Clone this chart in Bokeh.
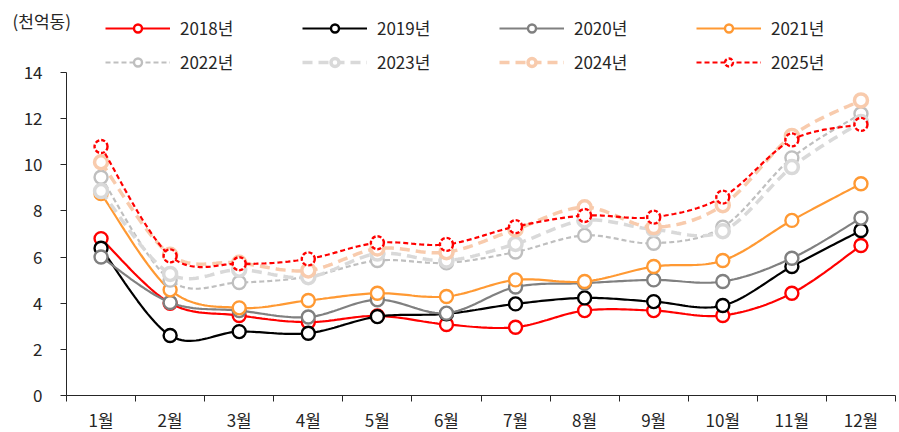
import numpy as np
from bokeh.plotting import figure
from bokeh.models import Range1d, FixedTicker, Legend, LegendItem, Label
from bokeh.embed import file_html
from bokeh.resources import INLINE

# ---- data (천억동) ----
months = ["1월", "2월", "3월", "4월", "5월", "6월", "7월", "8월", "9월", "10월", "11월", "12월"]
years = ["2018년", "2019년", "2020년", "2021년", "2022년", "2023년", "2024년", "2025년"]
y2018 = [6.80, 4.00, 3.47, 3.18, 3.45, 3.08, 2.96, 3.68, 3.68, 3.47, 4.43, 6.50]
y2019 = [6.38, 2.60, 2.77, 2.70, 3.42, 3.54, 3.97, 4.23, 4.07, 3.90, 5.59, 7.15]
y2020 = [6.00, 4.03, 3.68, 3.40, 4.15, 3.57, 4.70, 4.87, 5.01, 4.94, 5.95, 7.69]
y2021 = [8.75, 4.58, 3.80, 4.12, 4.43, 4.29, 5.01, 4.94, 5.59, 5.85, 7.59, 9.18]
y2022 = [9.46, 5.00, 4.90, 5.15, 5.85, 5.75, 6.22, 6.94, 6.60, 7.30, 10.30, 12.21]
y2023 = [8.86, 5.27, 5.45, 5.13, 6.15, 5.85, 6.57, 7.59, 7.20, 7.12, 9.90, 11.85]
y2024 = [10.11, 6.10, 5.75, 5.42, 6.37, 6.21, 7.20, 8.16, 7.30, 8.25, 11.25, 12.79]
y2025 = [10.79, 6.05, 5.71, 5.92, 6.62, 6.55, 7.32, 7.80, 7.73, 8.60, 11.08, 11.75]
series = [y2018, y2019, y2020, y2021, y2022, y2023, y2024, y2025]
y_ticks = [0, 2, 4, 6, 8, 10, 12, 14]

colors = ["#FF0000", "#000000", "#808080", "#FF9933", "#BFBFBF", "#D9D9D9", "#F8CBAD", "#FF0000"]
widths = [2.2, 2.2, 2.2, 2.2, 2.2, 3.5, 3.5, 2.2]
dashes = ["solid", "solid", "solid", "solid", "5 3", "10 6", "10 6", "5 3"]
mdash = ["solid", "solid", "solid", "solid", "solid", "solid", "solid", "4 2"]

FONT = "Noto Sans CJK KR"
TXT = "#262626"
FS = "17px"


def smooth(xs, ys, n=24):
    P = np.column_stack([xs, ys]).astype(float)
    m = len(P)
    out = [P[0]]
    t = np.linspace(0, 1, n + 1)[1:, None]
    for i in range(m - 1):
        p0 = P[i - 1] if i > 0 else P[i]
        p1, p2 = P[i], P[i + 1]
        p3 = P[i + 2] if i + 2 < m else P[i + 1]
        c1 = p1 + (p2 - p0) / 6.0
        c2 = p2 - (p3 - p1) / 6.0
        seg = (1 - t) ** 3 * p1 + 3 * (1 - t) ** 2 * t * c1 + 3 * (1 - t) * t ** 2 * c2 + t ** 3 * p2
        out.extend(seg)
    out = np.array(out)
    return out[:, 0], out[:, 1]


# ---- layout (pixels inside the figure) ----
W, H = 899, 432
AX_X = 66          # y-axis position
AX_R = 895         # right end of x-axis
PLOT_TOP = 72      # value 14
PLOT_BOT = 395     # value 0
n = len(months)
kx = (AX_R - AX_X) / n
ymax = y_ticks[-1]
ky = (PLOT_BOT - PLOT_TOP) / ymax

p = figure(width=W, height=H, output_backend="svg", toolbar_location=None,
           x_range=Range1d(0.5 - AX_X / kx, n + 0.5 + (W - AX_R) / kx),
           y_range=Range1d(-(H - PLOT_BOT) / ky, ymax + PLOT_TOP / ky),
           min_border=0, min_border_left=0, min_border_right=0,
           min_border_top=0, min_border_bottom=0)
p.outline_line_color = None
p.grid.visible = False
p.background_fill_color = "white"
p.border_fill_color = "white"

xpos = list(range(1, n + 1))

items = []
for name, ys, c, w, d, md in zip(years, series, colors, widths, dashes, mdash):
    sx, sy = smooth(xpos, ys)
    r1 = p.line(sx, sy, line_color=c, line_width=w, line_dash=d)
    r2 = p.scatter(xpos, ys, marker="circle", size=13, fill_color="white",
                   line_color=c, line_width=max(w, 2.4), line_dash=md)
    items.append(LegendItem(label=name, renderers=[r1, r2]))

# legend fills column by column: order so that rows read 2018..2021 / 2022..2025
ordered = [items[i] for pair in zip(range(0, 4), range(4, 8)) for i in pair]

# axes
xa = p.xaxis[0]
xa.fixed_location = 0
xa.bounds = (0.5, n + 0.5)
xa.ticker = FixedTicker(ticks=xpos, minor_ticks=[x - 0.5 for x in xpos] + [n + 0.5])
xa.major_label_overrides = {i + 1: m for i, m in enumerate(months)}
xa.major_tick_out = 0
xa.major_tick_in = 0
xa.minor_tick_out = 6
xa.minor_tick_in = 0
xa.major_label_standoff = 5
ya = p.yaxis[0]
ya.fixed_location = 0.5
ya.bounds = (0, ymax)
ya.ticker = FixedTicker(ticks=y_ticks, minor_ticks=[])
ya.major_tick_out = 6
ya.major_tick_in = 0
ya.minor_tick_out = 0
ya.major_label_standoff = 18
for ax in (xa, ya):
    ax.axis_line_color = TXT
    ax.major_tick_line_color = TXT
    ax.minor_tick_line_color = TXT
    ax.major_label_text_font = FONT
    ax.major_label_text_font_size = FS
    ax.major_label_text_color = TXT

legend = Legend(items=ordered, ncols=4, location=(105, H - 74), padding=0, margin=0,
                spacing=9, label_standoff=10, glyph_width=65, glyph_height=20,
                label_height=20, label_width=113,
                label_text_font=FONT, label_text_font_size=FS, label_text_color=TXT,
                border_line_alpha=0, background_fill_alpha=0)
p.add_layout(legend, "center")

unit = Label(x=12, y=H - 20, x_units="screen", y_units="screen", text="(천억동)",
             text_font=FONT, text_font_size=FS, text_color=TXT, text_baseline="middle")
p.add_layout(unit)

open("out.html", "w").write(file_html(p, INLINE))
